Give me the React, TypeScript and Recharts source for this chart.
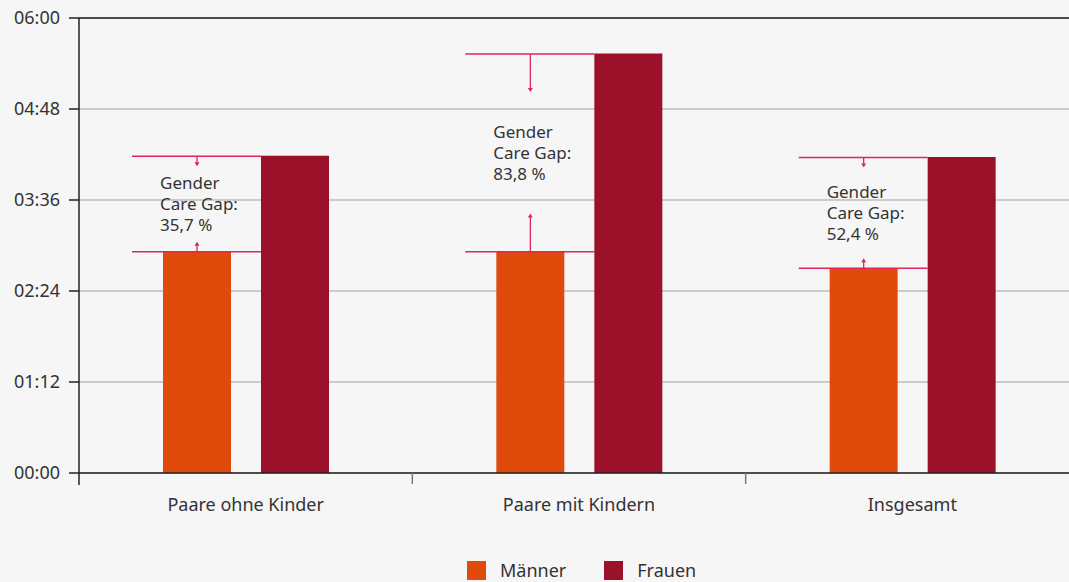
import React from 'react'
import {
  BarChart,
  Bar,
  XAxis,
  YAxis,
  CartesianGrid,
  Legend,
  ReferenceLine
} from 'recharts'

// minutes per day
const categories = ['Paare ohne Kinder', 'Paare mit Kindern', 'Insgesamt']
const maenner = [175, 175, 162]
const frauen = [251, 332, 250]
const gapLabels = ['35,7 %', '83,8 %', '52,4 %']
const yTicks = [0, 72, 144, 216, 288, 360]

const data = categories.map((name, i) => ({
  name,
  Männer: maenner[i],
  Frauen: frauen[i]
}))

const W = 1069
const H = 582
// plot runs a bit past the right edge of the picture
const CW = 1079
const LEFT = 79
const BAND = (CW - LEFT) / categories.length
const BAR_GAP = 30

const ORANGE = '#e04a0a'
const RED = '#9a1129'
const PINK = '#e0245e'
const TEXT = '#333333'
const FONT = '"Noto Sans", sans-serif'

const fmt = (m: number) => {
  const h = Math.floor(m / 60)
  const mm = m % 60
  return `${String(h).padStart(2, '0')}:${String(mm).padStart(2, '0')}`
}

const XTick = (props: any) => {
  const { x, y, payload } = props
  const half = BAND / 2
  return (
    <g>
      <line x1={x + half} y1={y - 8} x2={x + half} y2={y + 3} stroke="#777" strokeWidth={1.5} />
      {payload.index === 0 && (
        <line x1={x - half} y1={y - 8} x2={x - half} y2={y + 4} stroke="#222" strokeWidth={1.5} />
      )}
      <text x={x} y={y + 30} textAnchor="middle" fill={TEXT} fontSize={18} fontFamily={FONT}>
        {payload.value}
      </text>
    </g>
  )
}

const Arrow = ({ x, y1, y2 }: { x: number; y1: number; y2: number }) => {
  const dir = y2 > y1 ? 1 : -1
  return (
    <g>
      <line x1={x} y1={y1} x2={x} y2={y2 - dir * 3} stroke={PINK} strokeWidth={1.3} />
      <polygon
        points={`${x - 2.5},${y2 - dir * 4} ${x + 2.5},${y2 - dir * 4} ${x},${y2}`}
        fill={PINK}
      />
    </g>
  )
}

const GapLabel = (props: any) => {
  const { x, y, width, height, value, index } = props
  const base = y + height
  const perMin = height / value
  const fTop = base - frauen[index] * perMin
  const fLeft = x + width + BAR_GAP
  const lineStart = x - 31
  const cx = x + width / 2
  const gap = y - fTop
  const len = Math.max(10, (gap - 122) / 2)
  const mid = (y + fTop) / 2
  const tx = x - 3
  return (
    <g>
      <line x1={lineStart} y1={fTop + 0.5} x2={fLeft} y2={fTop + 0.5} stroke={PINK} strokeWidth={1.5} />
      <line x1={lineStart} y1={y} x2={fLeft} y2={y} stroke={PINK} strokeWidth={1.5} />
      <Arrow x={cx} y1={fTop + 0.5} y2={fTop + 0.5 + len} />
      <Arrow x={cx} y1={y} y2={y - len} />
      <text x={tx} fill={TEXT} fontSize={17} fontFamily={FONT}>
        <tspan x={tx} y={mid - 15}>Gender</tspan>
        <tspan x={tx} y={mid + 6}>Care Gap:</tspan>
        <tspan x={tx} y={mid + 27}>{gapLabels[index]}</tspan>
      </text>
    </g>
  )
}

const LegendContent = () => (
  <div
    style={{
      height: 30,
      boxSizing: 'border-box',
      paddingTop: 9,
      paddingLeft: 467,
      display: 'flex',
      alignItems: 'flex-start',
      fontFamily: FONT,
      fontSize: 18,
      color: TEXT
    }}
  >
    {[
      { label: 'Männer', color: ORANGE },
      { label: 'Frauen', color: RED }
    ].map((it, i) => (
      <div
        key={it.label}
        style={{ display: 'flex', alignItems: 'center', marginRight: i === 0 ? 38 : 0 }}
      >
        <span style={{ width: 19, height: 19, background: it.color, display: 'inline-block', marginRight: 14 }} />
        <span style={{ lineHeight: '19px' }}>{it.label}</span>
      </div>
    ))}
  </div>
)

export default function App() {
  return (
    <div
      style={{
        position: 'absolute',
        left: 0,
        top: 0,
        width: W,
        height: H,
        overflow: 'hidden',
        background: '#f6f6f6'
      }}
    >
      <BarChart
        width={CW}
        height={H}
        data={data}
        margin={{ top: 18, right: 0, left: 0, bottom: 0 }}
        barGap={BAR_GAP}
        barSize={68}
      >
        <CartesianGrid vertical={false} stroke="#bdbdbd" strokeWidth={1.5} />
        <XAxis
          dataKey="name"
          height={79}
          tickLine={false}
          axisLine={{ stroke: '#222', strokeWidth: 1.5 }}
          tick={<XTick />}
          interval={0}
        />
        <YAxis
          width={LEFT}
          domain={[0, 360]}
          ticks={yTicks}
          tickFormatter={fmt}
          axisLine={{ stroke: '#222', strokeWidth: 1.5 }}
          tickLine={{ stroke: '#222', strokeWidth: 1.5 }}
          tickSize={10}
          tickMargin={9}
          tick={{ fill: TEXT, fontSize: 18, fontFamily: FONT }}
        />
        <ReferenceLine y={360} stroke="#222" strokeWidth={1.5} />
        <Legend verticalAlign="bottom" content={<LegendContent />} wrapperStyle={{ left: 0, width: W }} />
        <Bar dataKey="Männer" fill={ORANGE} isAnimationActive={false} label={<GapLabel />} />
        <Bar dataKey="Frauen" fill={RED} isAnimationActive={false} />
      </BarChart>
    </div>
  )
}
